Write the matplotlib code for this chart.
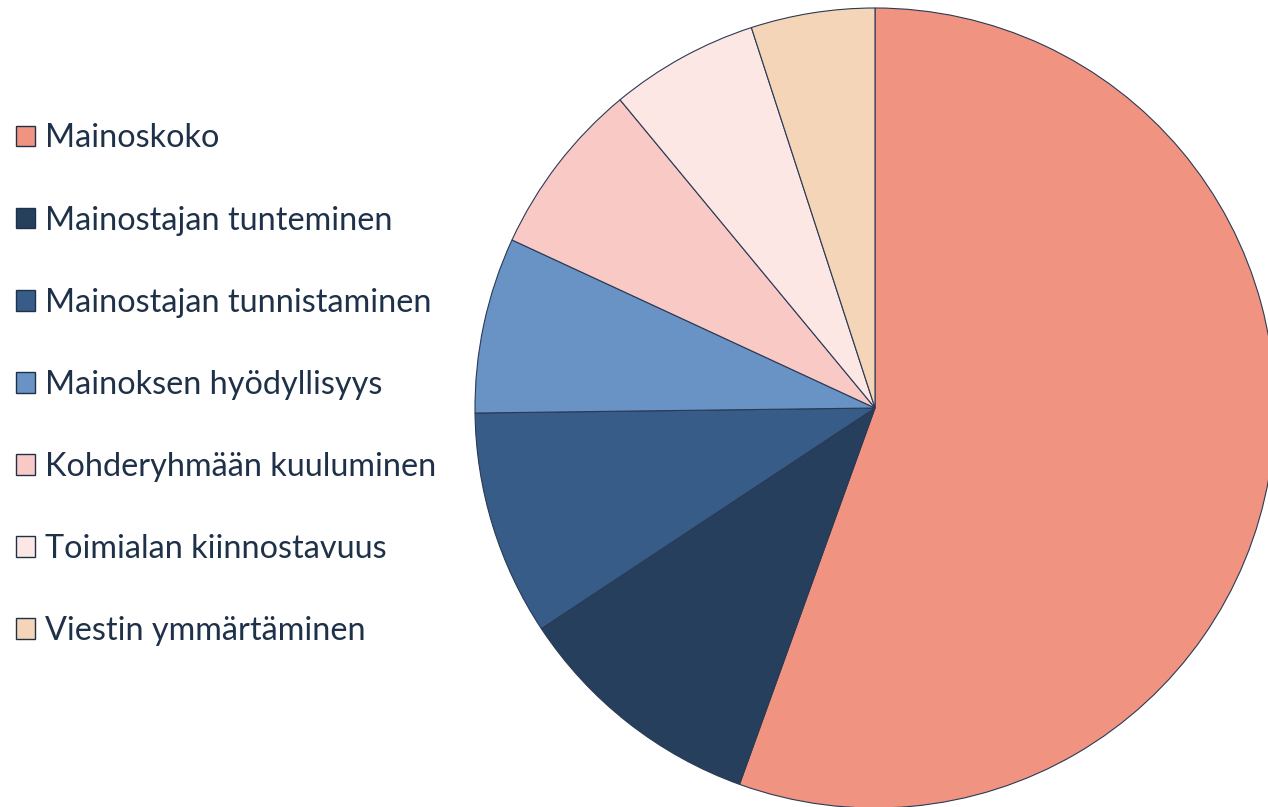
import matplotlib.pyplot as plt

labels = ["Mainoskoko", "Mainostajan tunteminen", "Mainostajan tunnistaminen",
          "Mainoksen hyödyllisyys", "Kohderyhmään kuuluminen",
          "Toimialan kiinnostavuus", "Viestin ymmärtäminen"]
values = [55.5, 10.2, 9.1, 7.1, 7.1, 6.0, 5.0]
colors = ["#F19381", "#253F5C", "#375C87", "#6893C4", "#F9C9C5", "#FCE7E5", "#F4D5B7"]

text_color = "#1F3149"
plt.rcParams['font.family'] = ['Lato', 'DejaVu Sans']

W, H = 1268, 807
fig = plt.figure(figsize=(W / 100, H / 100), dpi=100)

# pie centered at (875, 408) px with radius 400 px
cx, cy, r = 875, 408, 400
ax = fig.add_axes([(cx - r) / W, (H - cy - r) / H, 2 * r / W, 2 * r / H])
wedges, _ = ax.pie(values, colors=colors, startangle=90, counterclock=False,
                   radius=1, wedgeprops=dict(edgecolor="#2A3A55", linewidth=0.8))
ax.set_xlim(-1, 1)
ax.set_ylim(-1, 1)
ax.set_aspect("auto")
ax.axis("off")
for w in wedges:
    w.set_clip_on(False)

leg = fig.legend(wedges, labels, loc="upper left", bbox_to_anchor=(16 / W, 0.847),
                 frameon=False, fontsize=23.3, handlelength=0.6, handleheight=0.6,
                 handletextpad=0.3, labelspacing=1.61, borderpad=0, borderaxespad=0,
                 labelcolor=text_color)
for h in leg.legend_handles:
    h.set_edgecolor(text_color)
    h.set_linewidth(1.0)

fig.savefig("out.png", dpi=100)
